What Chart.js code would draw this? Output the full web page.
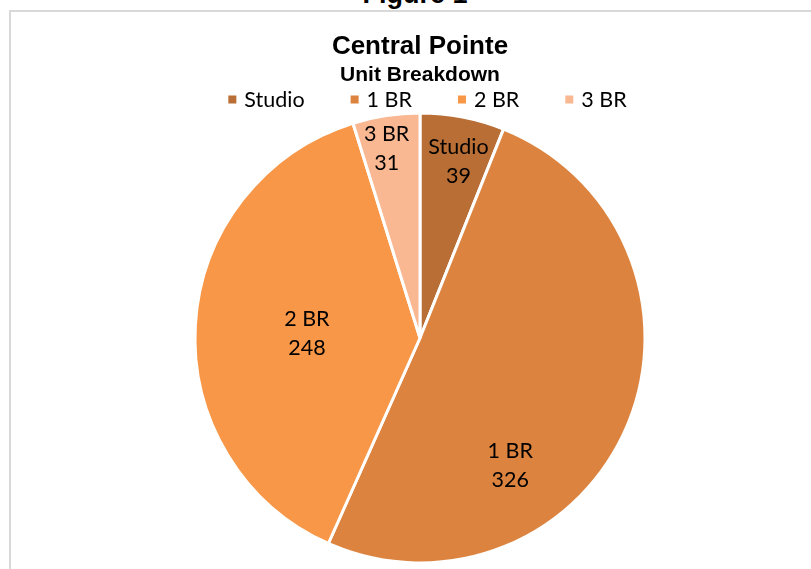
<!DOCTYPE html>
<html>
<head>
<meta charset="utf-8">
<script src="https://cdn.jsdelivr.net/npm/chart.js@4.4.1/dist/chart.umd.min.js"></script>
<style>
  html, body { margin: 0; padding: 0; background: #fff; overflow: hidden; }
  #wrap { position: relative; width: 811px; height: 569px; overflow: hidden; }
  #frame {
    position: absolute; left: 9px; top: 10px; width: 830px; height: 600px;
    border-left: 2px solid #d9d9d9; border-top: 2px solid #d9d9d9; box-sizing: border-box;
  }
  #fig {
    position: absolute; left: 0; top: -19px; width: 830px; text-align: center;
    font: bold 27px "Liberation Sans", Arial, sans-serif; line-height: 27px; color: #000;
  }
  canvas { position: absolute; left: 0; top: 0; }
</style>
</head>
<body>
<div id="wrap">
  <div id="fig">Figure 1</div>
  <div id="frame"></div>
  <canvas id="unitChart" width="811" height="569"></canvas>
</div>
<script>
const categories = ["Studio", "1 BR", "2 BR", "3 BR"];
const units = [39, 326, 248, 31];
const colors = ["#B86E35", "#DC843F", "#F79747", "#F9B892"];

// where each data label sits: fraction of radius, and shift from mid-angle (deg)
const labelRadius = [0.802, 0.696, 0.503, 0.857];
const labelShift = [1.4, 31.9, -1.0, -1.3];

const labelFont = '21.5px Lato, "Noto Sans", sans-serif';

// data labels inside the slices (name on one line, value below)
const sliceLabels = {
  id: "sliceLabels",
  afterDatasetsDraw(chart) {
    const ctx = chart.ctx;
    const meta = chart.getDatasetMeta(0);
    ctx.save();
    ctx.font = labelFont;
    ctx.fillStyle = "#000";
    ctx.textAlign = "center";
    ctx.textBaseline = "middle";
    meta.data.forEach((arc, i) => {
      const p = arc.getProps(["x", "y", "startAngle", "endAngle", "outerRadius"], true);
      const a = (p.startAngle + p.endAngle) / 2 + (labelShift[i] * Math.PI) / 180;
      const r = p.outerRadius * labelRadius[i];
      const x = p.x + Math.cos(a) * r;
      const y = p.y + Math.sin(a) * r;
      ctx.fillText(categories[i], x, y - 14.5);
      ctx.fillText(String(units[i]), x, y + 14.5);
    });
    ctx.restore();
  },
};

// Excel-style legend row: small square, label, wide gap
const rowLegend = {
  id: "rowLegend",
  afterDraw(chart) {
    const ctx = chart.ctx;
    const box = 8, gap = 8, spacing = 46, cx = 427.5, cy = 100;
    ctx.save();
    ctx.font = labelFont;
    const widths = categories.map((c) => ctx.measureText(c).width);
    const total = widths.reduce((s, w) => s + box + gap + w, 0) + spacing * (categories.length - 1);
    let x = cx - total / 2;
    ctx.textBaseline = "middle";
    ctx.textAlign = "left";
    categories.forEach((c, i) => {
      ctx.fillStyle = colors[i];
      ctx.fillRect(x, cy - box / 2 - 0.5, box, box);
      ctx.fillStyle = "#000";
      ctx.fillText(c, x + box + gap, cy);
      x += box + gap + widths[i] + spacing;
    });
    ctx.restore();
  },
};

const ctx = document.getElementById("unitChart").getContext("2d");
new Chart(ctx, {
  type: "pie",
  data: {
    labels: categories,
    datasets: [
      {
        label: "Units",
        data: units,
        backgroundColor: colors,
        borderColor: "#ffffff",
        borderWidth: 3,
        radius: 225,
      },
    ],
  },
  options: {
    responsive: false,
    animation: false,
    layout: { padding: { left: 29, right: 0, top: 0, bottom: 0 } },
    plugins: {
      legend: { display: false },
      tooltip: { enabled: false },
      title: {
        display: true,
        text: "Central Pointe",
        color: "#000",
        font: { family: '"Liberation Sans", Arial, sans-serif', size: 26, weight: "bold", lineHeight: 1.2 },
        padding: { top: 31.1, bottom: 0 },
      },
      subtitle: {
        display: true,
        text: "Unit Breakdown",
        color: "#000",
        font: { family: '"Liberation Sans", Arial, sans-serif', size: 21, weight: "bold", lineHeight: 1.2 },
        padding: { top: 0, bottom: 19.5 },
      },
    },
  },
  plugins: [sliceLabels, rowLegend],
});
</script>
</body>
</html>
